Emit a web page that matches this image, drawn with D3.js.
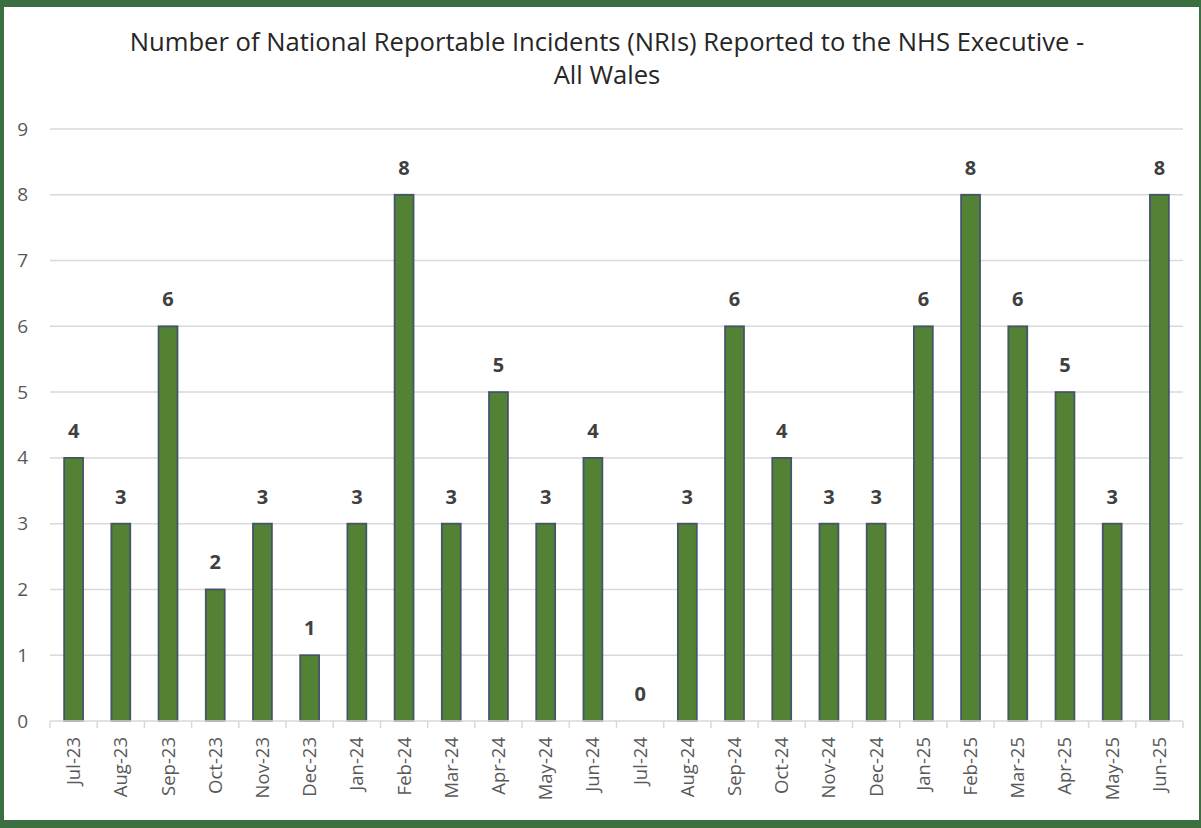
<!DOCTYPE html>
<html>
<head>
<meta charset="utf-8">
<script src="https://cdn.jsdelivr.net/npm/d3@7"></script>
<style>
  body { margin: 0; background: #fff; }
  svg { display: block; font-family: "Open Sans", "Noto Sans", sans-serif; }
</style>
</head>
<body>
<div id="chart"></div>
<script>
// months and NRI counts
var months = ["Jul-23", "Aug-23", "Sep-23", "Oct-23", "Nov-23", "Dec-23", "Jan-24", "Feb-24",
  "Mar-24", "Apr-24", "May-24", "Jun-24", "Jul-24", "Aug-24", "Sep-24", "Oct-24", "Nov-24",
  "Dec-24", "Jan-25", "Feb-25", "Mar-25", "Apr-25", "May-25", "Jun-25"]
var counts = [4, 3, 6, 2, 3, 1, 3, 8, 3, 5, 3, 4, 0, 3, 6, 4, 3, 3, 6, 8, 6, 5, 3, 8]
var yTicks = [0, 1, 2, 3, 4, 5, 6, 7, 8, 9]
var titleLines = ["Number of National Reportable Incidents (NRIs) Reported to the NHS Executive -", "All Wales"]

var W = 1201, H = 828
var margin = { top: 129, right: 18, bottom: 107, left: 50 }
var width = W - margin.left - margin.right,
    height = H - margin.top - margin.bottom

var svg = d3.select("#chart").append("svg")
    .attr("width", W)
    .attr("height", H)

// green frame
svg.append("rect").attr("x", 0).attr("y", 0).attr("width", W).attr("height", 7).attr("fill", "#3b6e41")
svg.append("rect").attr("x", 0).attr("y", 0).attr("width", 4).attr("height", H).attr("fill", "#3b6e41")
svg.append("rect").attr("x", 0).attr("y", H - 8).attr("width", W).attr("height", 8).attr("fill", "#3b6e41")
svg.append("rect").attr("x", W - 2).attr("y", 0).attr("width", 2).attr("height", H).attr("fill", "#3b6e41")

// title
svg.append("text")
    .attr("x", 607)
    .attr("y", 51)
    .attr("text-anchor", "middle")
    .style("font-size", "25.6px")
    .style("fill", "#262626")
    .selectAll("tspan")
    .data(titleLines)
    .enter()
    .append("tspan")
    .attr("x", 607)
    .attr("dy", function (d, i) { return i == 0 ? 0 : 33 })
    .text(function (d) { return d })

var g = svg.append("g")
    .attr("transform", "translate(" + margin.left + "," + margin.top + ")")

var x = d3.scaleBand()
    .domain(months)
    .range([0, width])
    .paddingInner(0.6)
    .paddingOuter(0.3)

var y = d3.scaleLinear()
    .domain([0, 9])
    .range([height, 0])

// gridlines
g.append("g")
    .selectAll("line")
    .data(yTicks.slice(1))
    .enter()
    .append("line")
    .attr("x1", 0)
    .attr("x2", width)
    .attr("y1", function (d) { return y(d) })
    .attr("y2", function (d) { return y(d) })
    .attr("stroke", "#d9d9d9")
    .attr("stroke-width", 1.5)

// y axis labels
var yAxis = d3.axisLeft(y).tickValues(yTicks).tickSize(0).tickPadding(22)
g.append("g")
    .attr("class", "y axis")
    .call(yAxis)
    .call(function (s) { s.select(".domain").remove() })
    .selectAll("text")
    .style("font-size", "19px")
    .style("fill", "#595959")
    .style("font-family", "'Open Sans', sans-serif")

// bars
g.selectAll(".bar")
    .data(counts)
    .enter()
    .append("rect")
    .attr("class", "bar")
    .attr("x", function (d, i) { return x(months[i]) })
    .attr("y", function (d) { return y(d) })
    .attr("width", x.bandwidth())
    .attr("height", function (d) { return height - y(d) })
    .attr("fill", "#548235")
    .attr("stroke", "#44546a")
    .attr("stroke-width", 1.8)
    .style("display", function (d) { return d == 0 ? "none" : null })

// data labels
g.selectAll(".lbl")
    .data(counts)
    .enter()
    .append("text")
    .attr("class", "lbl")
    .attr("x", function (d, i) { return x(months[i]) + x.bandwidth() / 2 })
    .attr("y", function (d) { return y(d) - 20 })
    .attr("text-anchor", "middle")
    .style("font-size", "20px")
    .style("font-weight", "bold")
    .style("fill", "#404040")
    .text(function (d) { return d })

// x axis line + ticks between categories
var boundaries = d3.range(months.length + 1).map(function (i) { return i * width / months.length })
g.append("line")
    .attr("x1", 0).attr("x2", width)
    .attr("y1", height).attr("y2", height)
    .attr("stroke", "#d9d9d9").attr("stroke-width", 1.5)
g.append("g")
    .selectAll("line")
    .data(boundaries)
    .enter()
    .append("line")
    .attr("x1", function (d) { return d }).attr("x2", function (d) { return d })
    .attr("y1", height).attr("y2", height + 7)
    .attr("stroke", "#d9d9d9").attr("stroke-width", 1.5)

var xAxis = d3.axisBottom(x).tickSize(0).tickPadding(0)
g.append("g")
    .attr("class", "x axis")
    .attr("transform", "translate(0," + height + ")")
    .call(xAxis)
    .call(function (s) { s.select(".domain").remove() })
    .selectAll("text")
    .attr("transform", "rotate(-90)")
    .attr("x", -16)
    .attr("y", 0)
    .attr("dy", "0.35em")
    .style("text-anchor", "end")
    .style("font-size", "18.5px")
    .style("fill", "#595959")
    .style("font-family", "'Open Sans', sans-serif")
</script>
</body>
</html>
